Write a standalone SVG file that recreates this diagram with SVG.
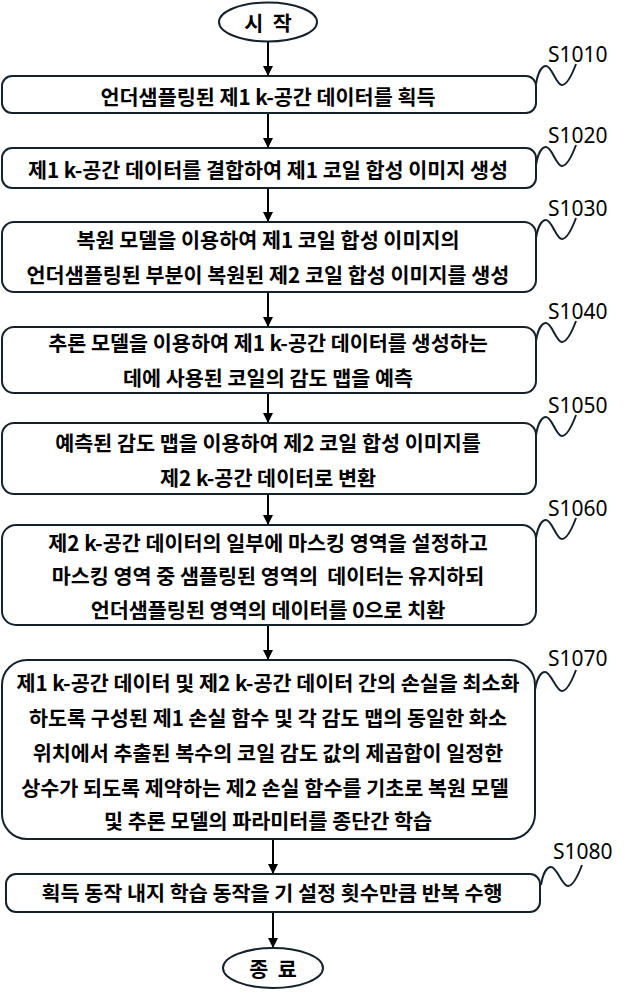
<svg xmlns="http://www.w3.org/2000/svg" width="632" height="992" viewBox="0 0 632 992">
<style>
.box{fill:#fff;stroke:#16222b;stroke-width:2}
.t{font-family:"Noto Sans CJK KR","Noto Sans",sans-serif;font-weight:700;font-size:20.7px;fill:#000;text-anchor:middle;dominant-baseline:central}
.lab{font-family:"Noto Sans","DejaVu Sans",sans-serif;font-size:21px;fill:#000}
.sq{fill:none;stroke:#16222b;stroke-width:2}
.conn{stroke:#000;stroke-width:2;fill:none}
</style>
<defs>
<marker id="a" markerUnits="userSpaceOnUse" markerWidth="10" markerHeight="11" refX="10" refY="5" orient="auto" viewBox="0 0 10 10">
<path d="M0,0 L10,5 L0,10 Z" fill="#000"/>
</marker>
</defs>
<rect width="632" height="992" fill="#fff"/>

<g id="connectors">
<line class="conn" x1="268" y1="42" x2="268" y2="76" marker-end="url(#a)"/>
<line class="conn" x1="268" y1="113" x2="268" y2="148" marker-end="url(#a)"/>
<line class="conn" x1="268" y1="188" x2="268" y2="222" marker-end="url(#a)"/>
<line class="conn" x1="268" y1="292" x2="268" y2="327" marker-end="url(#a)"/>
<line class="conn" x1="268" y1="393" x2="268" y2="423" marker-end="url(#a)"/>
<line class="conn" x1="268" y1="494" x2="268" y2="525" marker-end="url(#a)"/>
<line class="conn" x1="268" y1="625" x2="268" y2="660" marker-end="url(#a)"/>
<line class="conn" x1="273" y1="839" x2="273" y2="874" marker-end="url(#a)"/>
<line class="conn" x1="273" y1="912" x2="273" y2="948" marker-end="url(#a)"/>
</g>

<g id="start">
<ellipse class="box" cx="268" cy="22" rx="49" ry="19.5"/>
<text class="t" x="268" y="22" xml:space="preserve">시  작</text>
</g>

<g id="S1010">
<rect class="box" x="2" y="76" width="534" height="37" rx="10"/>
<text class="t" x="268" y="96">언더샘플링된 제1 k-공간 데이터를 획득</text>
<path class="sq" d="M536,84 C538,72 542,66 546,66 C552,66 556,85 562,85 C568,85 573,72 576,64"/>
<text class="lab" x="548" y="62">S1010</text>
</g>

<g id="S1020">
<rect class="box" x="2" y="148" width="534" height="40" rx="10"/>
<text class="t" x="268" y="168.5">제1 k-공간 데이터를 결합하여 제1 코일 합성 이미지 생성</text>
<path class="sq" d="M536,165 C538,153 542,147 546,147 C552,147 556,166 562,166 C568,166 573,153 576,145"/>
<text class="lab" x="548" y="143">S1020</text>
</g>

<g id="S1030">
<rect class="box" x="2" y="222" width="534" height="70" rx="12"/>
<text class="t" x="268" y="238.5">복원 모델을 이용하여 제1 코일 합성 이미지의</text>
<text class="t" x="268" y="273.5">언더샘플링된 부분이 복원된 제2 코일 합성 이미지를 생성</text>
<path class="sq" d="M536,238 C538,226 542,220 546,220 C552,220 556,239 562,239 C568,239 573,226 576,218"/>
<text class="lab" x="548" y="216">S1030</text>
</g>

<g id="S1040">
<rect class="box" x="2" y="327" width="534" height="66" rx="12"/>
<text class="t" x="268" y="341.5">추론 모델을 이용하여 제1 k-공간 데이터를 생성하는</text>
<text class="t" x="268" y="376.5">데에 사용된 코일의 감도 맵을 예측</text>
<path class="sq" d="M536,341 C538,329 542,323 546,323 C552,323 556,342 562,342 C568,342 573,329 576,321"/>
<text class="lab" x="548" y="319">S1040</text>
</g>

<g id="S1050">
<rect class="box" x="2" y="423" width="534" height="71" rx="12"/>
<text class="t" x="268" y="441.5">예측된 감도 맵을 이용하여 제2 코일 합성 이미지를</text>
<text class="t" x="268" y="476.5">제2 k-공간 데이터로 변환</text>
<path class="sq" d="M536,435 C538,423 542,417 546,417 C552,417 556,436 562,436 C568,436 573,423 576,415"/>
<text class="lab" x="548" y="413">S1050</text>
</g>

<g id="S1060">
<rect class="box" x="2" y="525" width="534" height="100" rx="14"/>
<text class="t" x="268" y="541.5">제2 k-공간 데이터의 일부에 마스킹 영역을 설정하고</text>
<text class="t" x="268" y="575" xml:space="preserve">마스킹 영역 중 샘플링된 영역의  데이터는 유지하되</text>
<text class="t" x="268" y="608.5">언더샘플링된 영역의 데이터를 0으로 치환</text>
<path class="sq" d="M536,538 C538,526 542,520 546,520 C552,520 556,539 562,539 C568,539 573,526 576,518"/>
<text class="lab" x="548" y="516">S1060</text>
</g>

<g id="S1070">
<rect class="box" x="2" y="660" width="533" height="179" rx="25"/>
<text class="t" x="268" y="681.5">제1 k-공간 데이터 및 제2 k-공간 데이터 간의 손실을 최소화</text>
<text class="t" x="268" y="716.5">하도록 구성된 제1 손실 함수 및 각 감도 맵의 동일한 화소</text>
<text class="t" x="268" y="751.5">위치에서 추출된 복수의 코일 감도 값의 제곱합이 일정한</text>
<text class="t" x="265" y="786.5">상수가 되도록 제약하는 제2 손실 함수를 기초로 복원 모델</text>
<text class="t" x="268" y="820">및 추론 모델의 파라미터를 종단간 학습</text>
<path class="sq" d="M535,690 C537,678 541,672 545,672 C551,672 556,691 562,691 C568,691 573,678 576,670"/>
<text class="lab" x="548" y="666">S1070</text>
</g>

<g id="S1080">
<rect class="box" x="6" y="874" width="534" height="38" rx="10"/>
<text class="t" x="272" y="892">획득 동작 내지 학습 동작을 기 설정 횟수만큼 반복 수행</text>
<path class="sq" d="M541,885 C543,873 547,867 551,867 C557,867 562,886 568,886 C574,886 579,873 582,865"/>
<text class="lab" x="553" y="859">S1080</text>
</g>

<g id="end">
<ellipse class="box" cx="273" cy="968" rx="50" ry="20"/>
<text class="t" x="273" y="968" xml:space="preserve">종  료</text>
</g>
</svg>
